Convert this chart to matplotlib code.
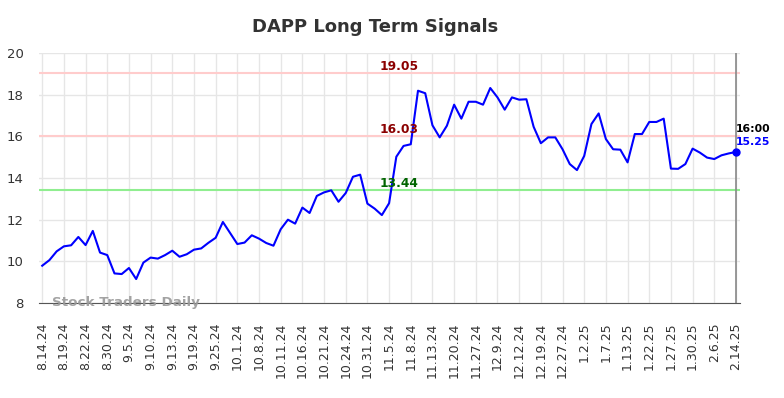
import matplotlib
matplotlib.use("Agg")
import matplotlib.pyplot as plt

# closing prices, one per session (97 points)
prices = [
    9.79, 10.06, 10.48, 10.72, 10.77, 11.17, 10.78, 11.46, 10.42, 10.30,
    9.42, 9.39, 9.68, 9.15, 9.94, 10.18, 10.13, 10.30, 10.51, 10.22,
    10.34, 10.56, 10.62, 10.89, 11.13, 11.89, 11.36, 10.83, 10.90, 11.25,
    11.09, 10.88, 10.75, 11.54, 12.00, 11.81, 12.58, 12.32, 13.14, 13.31,
    13.41, 12.86, 13.28, 14.06, 14.16, 12.77, 12.53, 12.22, 12.79, 15.02,
    15.54, 15.62, 18.19, 18.07, 16.53, 15.95, 16.51, 17.52, 16.85, 17.66,
    17.66, 17.52, 18.32, 17.87, 17.28, 17.87, 17.76, 17.78, 16.46, 15.67,
    15.95, 15.95, 15.38, 14.67, 14.38, 15.06, 16.59, 17.10, 15.87, 15.38,
    15.36, 14.75, 16.11, 16.11, 16.69, 16.69, 16.85, 14.45, 14.44, 14.67,
    15.41, 15.22, 14.98, 14.91, 15.09, 15.18, 15.25,
]

tick_labels = [
    "8.14.24", "8.19.24", "8.22.24", "8.30.24", "9.5.24", "9.10.24", "9.13.24",
    "9.19.24", "9.25.24", "10.1.24", "10.8.24", "10.11.24", "10.16.24",
    "10.21.24", "10.24.24", "10.31.24", "11.5.24", "11.8.24", "11.13.24",
    "11.20.24", "11.27.24", "12.9.24", "12.12.24", "12.19.24", "12.27.24",
    "1.2.25", "1.7.25", "1.13.25", "1.22.25", "1.27.25", "1.30.25", "2.6.25",
    "2.14.25",
]

resistance_hi = 19.05
resistance_lo = 16.03
support = 13.44
last_time = "16:00"

x = list(range(len(prices)))

fig = plt.figure(figsize=(7.84, 3.98), dpi=100)
ax = fig.add_axes([0.0497, 0.2387, 0.8941, 0.6281])

ax.plot(x, prices, color="blue", lw=1.5, zorder=3)
ax.plot(x[-1], prices[-1], "o", color="blue", ms=5, zorder=4)

ax.axhline(resistance_hi, color="#ffcccc", lw=1.5, zorder=2)
ax.axhline(resistance_lo, color="#ffcccc", lw=1.5, zorder=2)
ax.axhline(support, color="#90ee90", lw=1.5, zorder=2)
ax.axvline(x[-1], color="#888888", lw=1.2, zorder=2)

# level labels sit just above their lines
lx = 49.4
ax.text(lx, resistance_hi + 0.13, f"{resistance_hi:.2f}", color="darkred",
        fontsize=8.8, fontweight="bold", ha="center", va="baseline")
ax.text(lx, resistance_lo + 0.13, f"{resistance_lo:.2f}", color="darkred",
        fontsize=8.8, fontweight="bold", ha="center", va="baseline")
ax.text(lx, support + 0.13, f"{support:.2f}", color="darkgreen",
        fontsize=8.8, fontweight="bold", ha="center", va="baseline")

ax.text(x[-1], prices[-1] + 0.96, last_time, color="black", fontsize=7.8,
        fontweight="bold", ha="left", va="baseline")
ax.text(x[-1], prices[-1] + 0.34, f"{prices[-1]:.2f}", color="blue",
        fontsize=7.8, fontweight="bold", ha="left", va="baseline")

ax.text(0.018, 0.0, "Stock Traders Daily", transform=ax.transAxes,
        color="#999999", fontsize=9.7, fontweight="bold", ha="left",
        va="center", alpha=0.9, zorder=5)

ax.set_xlim(-0.45, 96.55)
ax.set_ylim(8, 20)
ax.set_yticks(range(8, 21, 2))
ax.set_xticks(range(0, len(prices), 3))
ax.set_xticklabels(tick_labels, rotation=90, fontsize=9)
ax.tick_params(axis="x", length=0, pad=14, colors="#333333")
ax.tick_params(axis="y", length=0, pad=11, labelsize=9.5, colors="#333333")

ax.grid(True, color="#e6e6e6", lw=1)
ax.set_axisbelow(True)
for s in ["top", "right", "left"]:
    ax.spines[s].set_visible(False)
ax.spines["bottom"].set_color("#555555")

fig.suptitle("DAPP Long Term Signals", x=0.478, y=0.955, fontsize=13,
             fontweight="bold", color="#333333")

fig.savefig("out.png", dpi=100)
